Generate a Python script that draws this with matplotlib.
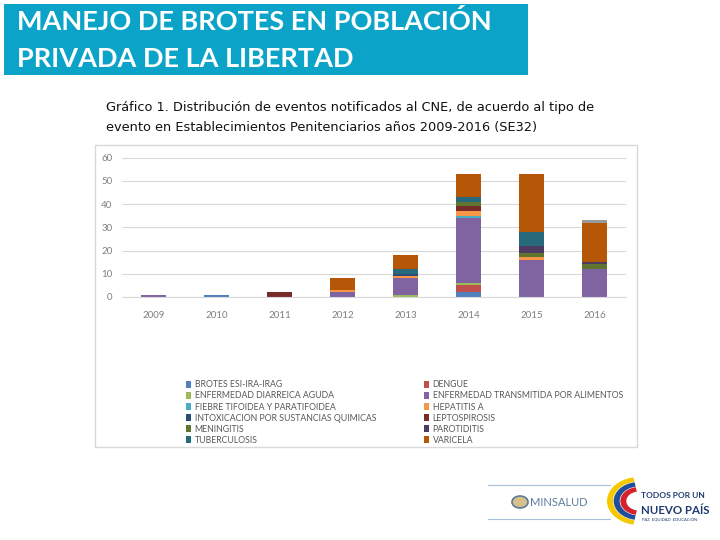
import numpy as np
import matplotlib.pyplot as plt
from matplotlib.patches import Rectangle, Circle, Wedge
from matplotlib.lines import Line2D

W, H = 720, 540

years = ["2009", "2010", "2011", "2012", "2013", "2014", "2015", "2016"]

brotes_esi_irag = [0, 1, 0, 0, 0, 2, 0, 0]
dengue = [0, 0, 0, 0, 0, 3, 0, 0]
eda = [0, 0, 0, 0, 1, 1, 0, 0]
eta = [1, 0, 0, 2, 7, 28, 16, 12]
fiebre_tifoidea = [0, 0, 0, 0, 0, 1, 0, 0]
hepatitis_a = [0, 0, 0, 1, 1, 2, 1, 0]
intoxicacion = [0, 0, 0, 0, 1, 0, 0, 0]
leptospirosis = [0, 0, 2, 0, 0, 2, 0, 0]
meningitis = [0, 0, 0, 0, 0, 2, 2, 2]
parotiditis = [0, 0, 0, 0, 0, 0, 3, 1]
tuberculosis = [0, 0, 0, 0, 2, 2, 6, 0]
varicela = [0, 0, 0, 5, 6, 10, 25, 17]
otro = [0, 0, 0, 0, 0, 0, 0, 1]  # serie gris sin entrada visible en la leyenda

series_names = [
    "BROTES ESI-IRA-IRAG", "DENGUE",
    "ENFERMEDAD DIARREICA AGUDA", "ENFERMEDAD TRANSMITIDA POR ALIMENTOS",
    "FIEBRE TIFOIDEA Y PARATIFOIDEA", "HEPATITIS A",
    "INTOXICACION POR SUSTANCIAS QUIMICAS", "LEPTOSPIROSIS",
    "MENINGITIS", "PAROTIDITIS",
    "TUBERCULOSIS", "VARICELA",
]
series_values = [
    brotes_esi_irag, dengue, eda, eta, fiebre_tifoidea, hepatitis_a,
    intoxicacion, leptospirosis, meningitis, parotiditis, tuberculosis, varicela,
]
series_colors = [
    "#4F81BD", "#C0504D", "#9BBB59", "#8064A2", "#4BACC6", "#F79646",
    "#2C4D75", "#772C2A", "#5F7530", "#4D3B62", "#276A7C", "#B65708",
]


def fx(px):
    return px / W


def fy(py):
    return 1 - py / H


fig = plt.figure(figsize=(7.2, 5.4), dpi=100)
fig.patch.set_facecolor("white")

# barra del titulo
fig.add_artist(Rectangle((fx(4), fy(75)), fx(524), 71 / H,
                         transform=fig.transFigure, facecolor="#0BA3C7",
                         edgecolor="none"))
fig.text(fx(17), fy(21), "MANEJO DE BROTES EN POBLACIÓN", color="white",
         fontsize=19.5, family="Lato", weight="bold", va="center", ha="left")
fig.text(fx(17), fy(59), "PRIVADA DE LA LIBERTAD", color="white",
         fontsize=19.5, family="Lato", weight="bold", va="center", ha="left")

# subtitulo
fig.text(fx(106), fy(107), "Gráfico 1. Distribución de eventos notificados al CNE, de acuerdo al tipo de",
         fontsize=9.3, family="DejaVu Sans", va="center", ha="left", color="#111111")
fig.text(fx(106), fy(128), "evento en Establecimientos Penitenciarios años 2009-2016 (SE32)",
         fontsize=9.3, family="DejaVu Sans", va="center", ha="left", color="#111111")

# marco del grafico
fig.add_artist(Rectangle((fx(95), fy(447)), fx(542), 302 / H,
                         transform=fig.transFigure, facecolor="none",
                         edgecolor="#D9D9D9", lw=1))

ax = fig.add_axes([fx(122), fy(297), fx(504), (297 - 157.5) / H])
x = np.arange(len(years))
bottom = np.zeros(len(years))
handles = []
for name, vals, col in zip(series_names, series_values, series_colors):
    b = ax.bar(x, vals, 0.4, bottom=bottom, color=col, label=name)
    handles.append(b)
    bottom += np.array(vals)
ax.bar(x, otro, 0.4, bottom=bottom, color="#9A9A9A", label="_nolegend_")

ax.set_xlim(-0.5, 7.5)
ax.set_ylim(0, 60)
ax.set_yticks(range(0, 61, 10))
ax.set_xticks(x)
ax.set_xticklabels(years)
ax.yaxis.grid(True, color="#D9D9D9", lw=0.8)
ax.set_axisbelow(True)
for s in ["left", "right", "top"]:
    ax.spines[s].set_visible(False)
ax.spines["bottom"].set_color("#D9D9D9")
ax.tick_params(axis="both", length=0, labelsize=7, labelcolor="#7F7F7F")
ax.tick_params(axis="x", pad=10)
ax.tick_params(axis="y", pad=7)
for lab in ax.get_xticklabels() + ax.get_yticklabels():
    lab.set_family("Lato")

# leyenda en dos columnas (orden por filas)
leg_kw = dict(frameon=False, handlelength=0.55, handleheight=0.8,
              handletextpad=0.4, labelspacing=0.24, borderpad=0,
              labelcolor="#595959", prop={"family": "Lato", "size": 6.3})
leg1 = fig.legend(handles[0::2], series_names[0::2], loc="upper left",
                  bbox_to_anchor=(fx(182), fy(376)), **leg_kw)
leg2 = fig.legend(handles[1::2], series_names[1::2], loc="upper left",
                  bbox_to_anchor=(fx(420), fy(376)), **leg_kw)

# logos (aproximacion)
for yy in (485, 519):
    fig.add_artist(Line2D([fx(488), fx(610)], [fy(yy), fy(yy)],
                          transform=fig.transFigure, color="#A9C1D6", lw=0.8))
fig.add_artist(Circle((fx(520), fy(502)), 6 / H, transform=fig.transFigure,
                      facecolor="#D8C08A", edgecolor="#5A7A99", lw=1.2))
fig.text(fx(530), fy(502), "MINSALUD", fontsize=8, family="Lato",
         color="#5C7C9C", va="center", ha="left")

for r, col in ((24, "#F6C800"), (19, "#1F4E9A"), (14, "#D6202A")):
    fig.add_artist(Wedge((fx(639), fy(501)), r / H, 100, 260, width=4.5 / H,
                         transform=fig.transFigure, facecolor=col,
                         edgecolor="none"))
fig.text(fx(641), fy(496), "TODOS POR UN", fontsize=6, family="Lato",
         weight="bold", color="#1F3A70", va="center", ha="left")
fig.text(fx(641), fy(510), "NUEVO PAÍS", fontsize=8.3, family="Lato",
         weight="bold", color="#1F3A70", va="center", ha="left")
fig.text(fx(642), fy(521), "PAZ  EQUIDAD  EDUCACIÓN", fontsize=3,
         family="Lato", color="#1F3A70", va="center", ha="left")

fig.savefig("out.png", dpi=100)
